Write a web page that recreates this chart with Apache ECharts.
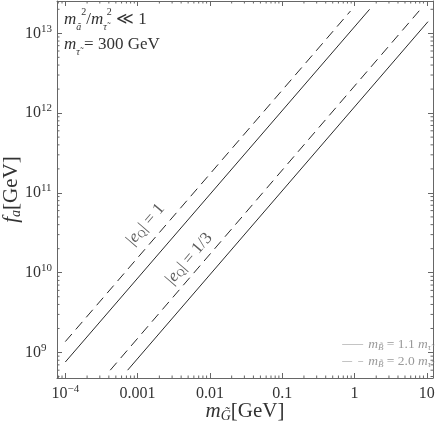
<!DOCTYPE html>
<html>
<head>
<meta charset="utf-8">
<script src="https://cdn.jsdelivr.net/npm/echarts@6/dist/echarts.min.js"></script>
<style>
html, body { margin: 0; padding: 0; background: #fff; }
#chart { width: 436px; height: 424px; }
</style>
</head>
<body>
<div id="chart"></div>
<script>
// axis ranges
const xMin = 7.67e-5, xMax = 12.2;
const yMin = 4.79e8, yMax = 2.54e13;

// |eQ| = 1
const solid1X = [1e-4, 1.62];
const solid1Y = [7.6e8, 2.0e13];
const dashed1X = [1e-4, 0.88];
const dashed1Y = [1.37e9, 1.9e13];
// |eQ| = 1/3
const solid2X = [7.27e-4, 10.4];
const solid2Y = [6.0e8, 1.4e13];
const dashed2X = [4.18e-4, 8.0];
const dashed2Y = [6.0e8, 1.95e13];

// in-plot labels along the lines
const labelX = [1.29e-3, 5.15e-3];
const labelY = [4.02e10, 1.50e10];
const labelText = ['1', '1/3'];

const FONT = 'Liberation Serif';
const INK = '#333';

function pairs(xs, ys) {
    return xs.map(function (x, i) { return [x, ys[i]]; });
}

function isDecade(v) {
    const e = Math.log10(v);
    return Math.abs(e - Math.round(e)) < 1e-6;
}

// minor tick positions 2..9 x 10^n inside a range
function minorTicks(lo, hi) {
    const out = [];
    for (let e = Math.floor(Math.log10(lo)); e <= Math.ceil(Math.log10(hi)); e++) {
        for (let k = 2; k <= 9; k++) {
            const v = k * Math.pow(10, e);
            if (v > lo && v < hi) out.push(v);
        }
    }
    return out;
}

const tickData = minorTicks(xMin, xMax).map(function (v) { return [v, yMin, 0]; })
    .concat(minorTicks(yMin, yMax).map(function (v) { return [xMin, v, 1]; }));

function init() {
    const chart = echarts.init(document.getElementById('chart'), null, { renderer: 'canvas' });

    const axisLine = { show: true, lineStyle: { color: '#666', width: 1 } };
    const majorTick = { show: true, inside: true, length: 5, lineStyle: { color: '#666' } };
    const tickRich = {
        b: { fontFamily: FONT, fontSize: 16, color: INK, lineHeight: 20 },
        sup: { fontFamily: FONT, fontSize: 11, color: INK, verticalAlign: 'top', lineHeight: 11 }
    };
    const titleRich = {
        i: { fontFamily: FONT, fontSize: 21, fontStyle: 'italic', color: INK, lineHeight: 24 },
        s: { fontFamily: FONT, fontSize: 14, fontStyle: 'italic', color: INK, verticalAlign: 'bottom', lineHeight: 15 },
        b: { fontFamily: FONT, fontSize: 21, color: INK, lineHeight: 24 }
    };

    const option = {
        animation: false,
        backgroundColor: '#fff',
        grid: { left: 57, right: 3, top: 1, bottom: 46, outerBoundsMode: 'none', containLabel: false },
        title: {
            left: 60, top: 3, padding: 4, itemGap: 0,
            text: '{i|m}{s|a\u0303}{p|2}/{i|m}{s|\u03c4\u0303}{p|2} \u226a 1\n{i|m}{s|\u03c4\u0303} = 300 GeV',
            textStyle: {
                fontFamily: FONT, fontSize: 17, fontWeight: 'normal', color: INK, lineHeight: 25,
                rich: {
                    i: { fontStyle: 'italic', lineHeight: 25 },
                    s: { fontSize: 10, fontStyle: 'italic', verticalAlign: 'bottom', lineHeight: 17 },
                    p: { fontSize: 10, verticalAlign: 'top', lineHeight: 17 }
                }
            }
        },
        xAxis: [{
            type: 'log', min: xMin, max: xMax, position: 'bottom',
            axisLine: axisLine, axisTick: majorTick, splitLine: { show: false },
            axisLabel: {
                margin: 6,
                rich: tickRich,
                formatter: function (v) {
                    if (!isDecade(v)) return '';
                    const e = Math.round(Math.log10(v));
                    if (e === -4) return '{b|10}{sup|\u22124}';
                    if (e < 0) return '{b|' + v.toFixed(-e) + '}';
                    return '{b|' + Math.round(v) + '}';
                }
            },
            name: '{i|m}{s|G\u0303}{b|[GeV]}',
            nameLocation: 'middle', nameGap: 21, nameMoveOverlap: false,
            nameTextStyle: { rich: titleRich }
        }, {
            type: 'log', min: xMin, max: xMax, position: 'top',
            axisLine: axisLine, axisTick: majorTick, axisLabel: { show: false }, splitLine: { show: false }
        }],
        yAxis: [{
            type: 'log', min: yMin, max: yMax, position: 'left',
            axisLine: axisLine, axisTick: majorTick, splitLine: { show: false },
            axisLabel: {
                margin: 32, align: 'left',
                rich: tickRich,
                formatter: function (v) {
                    if (!isDecade(v)) return '';
                    return '{b|10}{sup|' + Math.round(Math.log10(v)) + '}';
                }
            },
            name: '{i|f}{s|a}{b|[GeV]}',
            nameLocation: 'middle', nameGap: 34, nameMoveOverlap: false,
            nameTextStyle: { rich: titleRich }
        }, {
            type: 'log', min: yMin, max: yMax, position: 'right',
            axisLine: axisLine, axisTick: majorTick, axisLabel: { show: false }, splitLine: { show: false }
        }],
        legend: {
            orient: 'vertical', right: 5, top: 337, padding: 0,
            itemWidth: 21, itemHeight: 13, itemGap: 2,
            data: ['b11', 'b20'],
            lineStyle: { color: '#c4c4c4', width: 1 },
            itemStyle: { opacity: 0 },
            formatter: function (name) {
                const r = name === 'b11' ? '1.1' : '2.0';
                return '{i|m}{s|B\u0303} = ' + r + ' {i|m}{s|\u03c4\u0303}';
            },
            textStyle: {
                fontFamily: FONT, fontSize: 13.5, color: '#999', lineHeight: 15,
                rich: {
                    i: { fontStyle: 'italic', lineHeight: 15 },
                    s: { fontSize: 9, fontStyle: 'italic', verticalAlign: 'bottom', lineHeight: 11 }
                }
            }
        },
        series: [
            { name: 'b11', type: 'line', data: pairs(solid1X, solid1Y), showSymbol: false, symbol: 'none',
              lineStyle: { color: '#2a2a2a', width: 1 } },
            { name: 'b20', type: 'line', data: pairs(dashed1X, dashed1Y), showSymbol: false, symbol: 'none',
              lineStyle: { color: '#2a2a2a', width: 1, type: [10, 6] } },
            { name: 'b11', type: 'line', data: pairs(solid2X, solid2Y), showSymbol: false, symbol: 'none',
              lineStyle: { color: '#2a2a2a', width: 1 } },
            { name: 'b20', type: 'line', data: pairs(dashed2X, dashed2Y), showSymbol: false, symbol: 'none',
              lineStyle: { color: '#2a2a2a', width: 1, type: [10, 6] } },
            {
                // |eQ| labels, rotated along the lines
                type: 'scatter', symbolSize: 0, silent: true,
                data: pairs(labelX, labelY),
                label: {
                    show: true, position: 'inside', rotate: 49.4,
                    fontFamily: FONT, fontSize: 17, color: INK, lineHeight: 18,
                    formatter: function (p) { return '|{i|e}{s|Q}| = ' + labelText[p.dataIndex]; },
                    rich: {
                        i: { fontStyle: 'italic', lineHeight: 18 },
                        s: { fontSize: 11, verticalAlign: 'bottom', lineHeight: 12 }
                    }
                }
            },
            {
                // minor ticks on all four sides
                type: 'custom', silent: true, clip: false,
                data: tickData,
                renderItem: function (params, api) {
                    const len = 2.5;
                    const st = { stroke: '#666', lineWidth: 1 };
                    if (api.value(2) === 0) {
                        const b = api.coord([api.value(0), yMin]);
                        const t = api.coord([api.value(0), yMax]);
                        return { type: 'group', children: [
                            { type: 'line', shape: { x1: b[0], y1: b[1], x2: b[0], y2: b[1] - len }, style: st },
                            { type: 'line', shape: { x1: t[0], y1: t[1], x2: t[0], y2: t[1] + len }, style: st }
                        ] };
                    }
                    const l = api.coord([xMin, api.value(1)]);
                    const r = api.coord([xMax, api.value(1)]);
                    return { type: 'group', children: [
                        { type: 'line', shape: { x1: l[0], y1: l[1], x2: l[0] + len, y2: l[1] }, style: st },
                        { type: 'line', shape: { x1: r[0], y1: r[1], x2: r[0] - len, y2: r[1] }, style: st }
                    ] };
                }
            }
        ]
    };

    chart.setOption(option);
}

window.addEventListener('DOMContentLoaded', init);
</script>
</body>
</html>
